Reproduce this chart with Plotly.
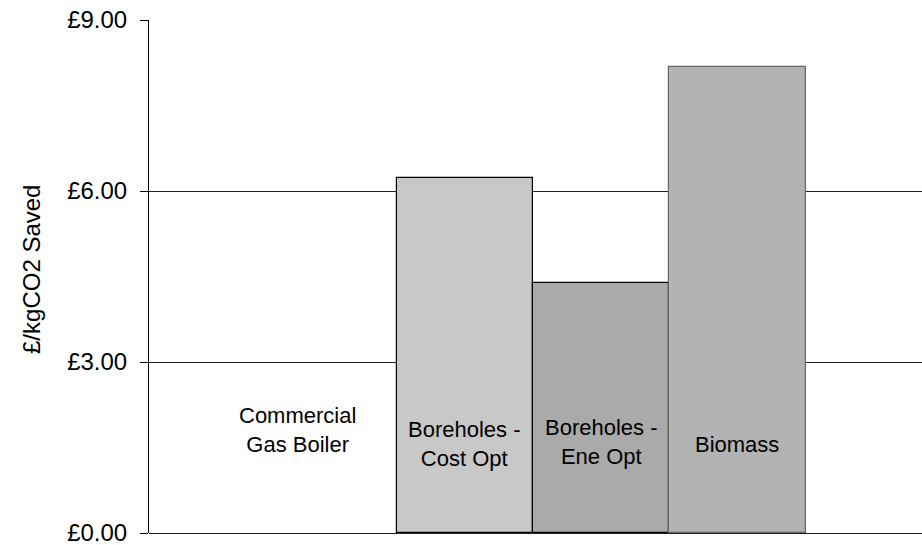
import plotly.graph_objects as go

categories = ["Commercial Gas Boiler", "Boreholes - Cost Opt", "Boreholes - Ene Opt", "Biomass"]
bar_labels = ["Commercial<br>Gas Boiler", "Boreholes -<br>Cost Opt", "Boreholes -<br>Ene Opt", "Biomass"]
values = [0.0, 6.22, 4.38, 8.18]
tick_vals = [0, 3, 6, 9]
tick_text = ["£0.00", "£3.00", "£6.00", "£9.00"]
y_title = "£/kgCO2 Saved"

fill_colors = ["#FFFFFF", "#C8C8C8", "#AAAAAA", "#B3B3B3"]
line_colors = ["rgba(0,0,0,0)", "#000000", "#000000", "#666666"]
label_y = [1.81, 1.57, 1.60, 1.55]
label_xshift = [-31, 0, 0, 0]

FONT = "Liberation Sans, Arial"
x_idx = list(range(len(categories)))

fig = go.Figure()
fig.add_trace(go.Bar(
    x=x_idx, y=values, width=[1] * len(values),
    marker=dict(color=fill_colors, line=dict(color=line_colors, width=1.2)),
    showlegend=False, hoverinfo="skip",
))

for i, lab in enumerate(bar_labels):
    fig.add_annotation(x=x_idx[i], y=label_y[i], text=lab, showarrow=False,
                       xshift=label_xshift[i], yanchor="middle", xanchor="center",
                       font=dict(family=FONT, size=22, color="#000000"))

# y-axis title as rotated annotation
fig.add_annotation(xref="paper", yref="paper", x=-0.1527, y=0.5146,
                   text=y_title, textangle=-90, showarrow=False,
                   xanchor="center", yanchor="middle",
                   font=dict(family=FONT, size=24, color="#000000"))

fig.update_layout(
    width=922, height=545,
    margin=dict(l=149, r=0, t=20, b=12),
    paper_bgcolor="white", plot_bgcolor="white",
    bargap=0,
    font=dict(family=FONT, size=24, color="#000000"),
    xaxis=dict(range=[-1.317, 4.354], showticklabels=False, showgrid=False,
               zeroline=False, showline=False, ticks=""),
    yaxis=dict(range=[0, 9], tickvals=tick_vals, ticktext=tick_text,
               showgrid=True, gridcolor="#222222", gridwidth=1,
               showline=True, linecolor="#000000", linewidth=1,
               ticks="outside", ticklen=8, tickcolor="#000000",
               ticklabelstandoff=8, ticklabeloverflow="allow",
               zeroline=True, zerolinecolor="#222222", zerolinewidth=1,
               tickfont=dict(family=FONT, size=24)),
)

fig.write_html("out.html")
